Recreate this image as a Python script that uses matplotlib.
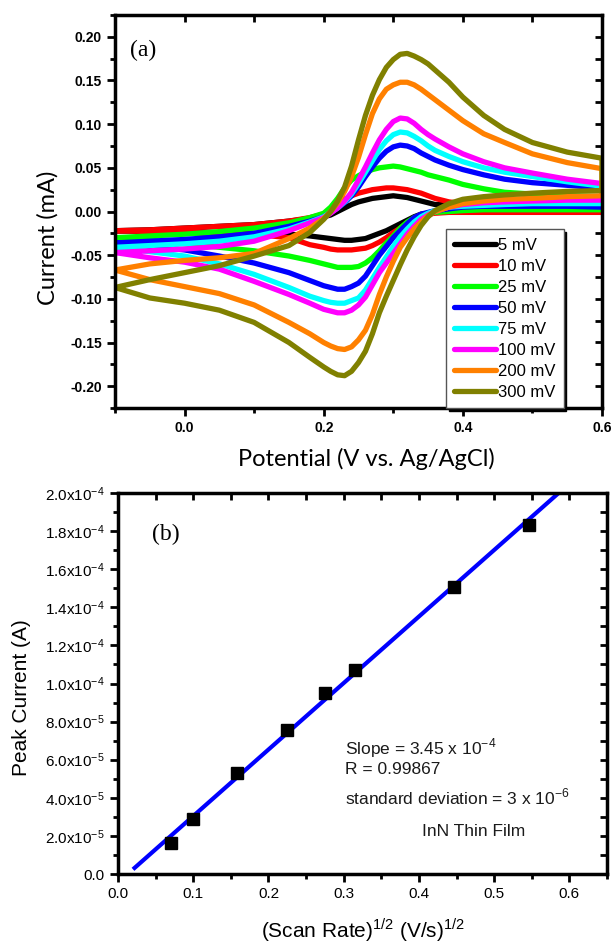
import matplotlib
matplotlib.use('Agg')
import matplotlib.pyplot as plt
from matplotlib.ticker import MultipleLocator, FuncFormatter
import numpy as np

plt.rcParams['font.family'] = ['Liberation Sans', 'DejaVu Sans']
plt.rcParams['axes.unicode_minus'] = False
plt.rcParams['mathtext.fontset'] = 'custom'
plt.rcParams['mathtext.rm'] = 'Liberation Sans'

# ---- (a) cyclic voltammograms, current in mA ----
potential = [-0.1, -0.05, 0.0, 0.05, 0.1, 0.15, 0.18, 0.2, 0.21, 0.22, 0.23, 0.24, 0.25, 0.26,
             0.27, 0.28, 0.29, 0.30, 0.31, 0.32, 0.33, 0.34, 0.35, 0.36, 0.38, 0.40, 0.43,
             0.46, 0.50, 0.55, 0.60]
scan_labels = ['5 mV', '10 mV', '25 mV', '50 mV', '75 mV', '100 mV', '200 mV', '300 mV']

fwd_5 = [-0.022, -0.021, -0.019, -0.017, -0.015, -0.011, -0.008, -0.006, -0.004, 0.000, 0.004,
         0.008, 0.011, 0.013, 0.015, 0.016, 0.017, 0.018, 0.017, 0.016, 0.014, 0.012, 0.010,
         0.008, 0.008, 0.008, 0.008, 0.008, 0.008, 0.008, 0.008]
rev_5 = [-0.022, -0.023, -0.024, -0.025, -0.025, -0.026, -0.028, -0.030, -0.031, -0.032, -0.033,
         -0.033, -0.032, -0.031, -0.028, -0.025, -0.022, -0.018, -0.014, -0.010, -0.006, -0.003,
         -0.002, -0.001, -0.001, -0.001, -0.001, -0.001, -0.001, -0.001, -0.001]
fwd_10 = [-0.022, -0.021, -0.019, -0.017, -0.015, -0.011, -0.007, -0.003, 0.001, 0.008, 0.014,
          0.018, 0.021, 0.023, 0.025, 0.026, 0.027, 0.027, 0.026, 0.025, 0.023, 0.021, 0.018,
          0.015, 0.011, 0.009, 0.008, 0.008, 0.008, 0.008, 0.008]
rev_10 = [-0.022, -0.023, -0.024, -0.025, -0.026, -0.030, -0.038, -0.041, -0.043, -0.044, -0.044,
          -0.044, -0.043, -0.042, -0.039, -0.035, -0.030, -0.024, -0.019, -0.013, -0.009, -0.005,
          -0.003, -0.002, -0.001, -0.001, -0.001, -0.001, -0.001, -0.001, -0.001]
fwd_25 = [-0.030, -0.028, -0.026, -0.023, -0.019, -0.013, -0.007, -0.002, 0.005, 0.015, 0.027,
          0.036, 0.041, 0.045, 0.048, 0.050, 0.051, 0.052, 0.051, 0.049, 0.047, 0.045, 0.042,
          0.040, 0.036, 0.031, 0.026, 0.022, 0.020, 0.018, 0.017]
rev_25 = [-0.030, -0.033, -0.037, -0.041, -0.045, -0.051, -0.056, -0.060, -0.062, -0.064, -0.064,
          -0.064, -0.063, -0.059, -0.053, -0.045, -0.036, -0.028, -0.019, -0.012, -0.007, -0.004,
          -0.002, -0.001, 0.000, 0.001, 0.002, 0.002, 0.002, 0.002, 0.002]
fwd_50 = [-0.036, -0.034, -0.032, -0.029, -0.025, -0.017, -0.011, -0.006, -0.001, 0.004, 0.010,
          0.018, 0.028, 0.040, 0.051, 0.061, 0.069, 0.074, 0.076, 0.075, 0.072, 0.067, 0.063,
          0.059, 0.053, 0.048, 0.042, 0.037, 0.033, 0.030, 0.027]
rev_50 = [-0.036, -0.040, -0.044, -0.051, -0.059, -0.070, -0.079, -0.085, -0.087, -0.089, -0.089,
          -0.086, -0.082, -0.074, -0.062, -0.050, -0.040, -0.030, -0.022, -0.014, -0.007, -0.003,
          -0.001, 0.001, 0.003, 0.005, 0.006, 0.006, 0.006, 0.006, 0.005]
fwd_75 = [-0.041, -0.039, -0.037, -0.034, -0.029, -0.020, -0.012, -0.006, -0.001, 0.004, 0.011,
          0.020, 0.032, 0.045, 0.058, 0.071, 0.081, 0.088, 0.091, 0.090, 0.086, 0.081, 0.075,
          0.070, 0.063, 0.057, 0.050, 0.045, 0.040, 0.034, 0.029]
rev_75 = [-0.041, -0.046, -0.051, -0.060, -0.072, -0.087, -0.097, -0.102, -0.104, -0.105, -0.105,
          -0.102, -0.099, -0.090, -0.077, -0.064, -0.052, -0.040, -0.029, -0.020, -0.012, -0.006,
          -0.002, 0.001, 0.005, 0.006, 0.007, 0.008, 0.009, 0.009, 0.009]
fwd_100 = [-0.047, -0.045, -0.043, -0.040, -0.034, -0.022, -0.013, -0.007, -0.002, 0.004, 0.012,
           0.022, 0.036, 0.051, 0.067, 0.082, 0.094, 0.103, 0.107, 0.106, 0.101, 0.094, 0.088,
           0.083, 0.074, 0.066, 0.057, 0.050, 0.044, 0.037, 0.032]
rev_100 = [-0.047, -0.053, -0.058, -0.066, -0.080, -0.095, -0.105, -0.112, -0.114, -0.116, -0.116,
           -0.113, -0.107, -0.098, -0.084, -0.070, -0.059, -0.048, -0.037, -0.026, -0.017, -0.009,
           -0.004, 0.000, 0.005, 0.008, 0.010, 0.011, 0.012, 0.013, 0.013]
fwd_200 = [-0.067, -0.060, -0.056, -0.053, -0.048, -0.031, -0.019, -0.008, 0.000, 0.010, 0.023,
           0.040, 0.062, 0.088, 0.112, 0.129, 0.140, 0.145, 0.148, 0.148, 0.145, 0.140, 0.134,
           0.128, 0.116, 0.104, 0.089, 0.079, 0.066, 0.056, 0.049]
rev_200 = [-0.067, -0.078, -0.086, -0.094, -0.107, -0.127, -0.140, -0.150, -0.154, -0.157, -0.158,
           -0.155, -0.147, -0.136, -0.118, -0.095, -0.075, -0.057, -0.041, -0.030, -0.020, -0.012,
           -0.005, 0.000, 0.005, 0.009, 0.012, 0.014, 0.015, 0.017, 0.018]
fwd_300 = [-0.087, -0.078, -0.070, -0.062, -0.051, -0.039, -0.024, -0.009, 0.000, 0.012, 0.028,
           0.052, 0.082, 0.110, 0.133, 0.151, 0.165, 0.174, 0.180, 0.181, 0.178, 0.174, 0.169,
           0.162, 0.148, 0.131, 0.110, 0.094, 0.079, 0.068, 0.061]
rev_300 = [-0.087, -0.099, -0.105, -0.113, -0.127, -0.150, -0.167, -0.178, -0.183, -0.187, -0.188,
           -0.183, -0.173, -0.160, -0.140, -0.116, -0.097, -0.079, -0.061, -0.044, -0.029, -0.016,
           -0.006, 0.001, 0.009, 0.014, 0.017, 0.019, 0.021, 0.023, 0.024]

forward = [fwd_5, fwd_10, fwd_25, fwd_50, fwd_75, fwd_100, fwd_200, fwd_300]
reverse = [rev_5, rev_10, rev_25, rev_50, rev_75, rev_100, rev_200, rev_300]
colors = ['#000000', '#ff0000', '#00ff00', '#0000ff', '#00ffff', '#ff00ff', '#ff8000', '#808000']

# ---- (b) peak current vs sqrt(scan rate) ----
sqrt_scan = [0.071, 0.100, 0.158, 0.224, 0.275, 0.315, 0.446, 0.546]
peak_current = [1.61e-5, 2.87e-5, 5.29e-5, 7.56e-5, 9.50e-5, 1.071e-4, 1.508e-4, 1.832e-4]


def frame(ax, xmaj, xmin, ymaj, ymin):
    for s in ax.spines.values():
        s.set_linewidth(2.5)
    ax.xaxis.set_major_locator(MultipleLocator(xmaj))
    ax.xaxis.set_minor_locator(MultipleLocator(xmin))
    ax.yaxis.set_major_locator(MultipleLocator(ymaj))
    ax.yaxis.set_minor_locator(MultipleLocator(ymin))
    ax.tick_params(which='major', direction='out', length=6, width=2)
    ax.tick_params(which='minor', direction='out', length=3.5, width=2)
    top = ax.secondary_xaxis('top')
    top.xaxis.set_major_locator(MultipleLocator(xmin))
    top.tick_params(direction='in', length=5, width=2, labeltop=False)
    right = ax.secondary_yaxis('right')
    right.yaxis.set_major_locator(MultipleLocator(ymin))
    right.tick_params(direction='in', length=5, width=2, labelright=False)


fig = plt.figure(figsize=(6.13, 9.43), dpi=100)

ax1 = fig.add_axes([115 / 613, 1 - 408 / 943, 487 / 613, 393 / 943])
for fwd, rev, lab, c in zip(forward, reverse, scan_labels, colors):
    xs = potential + potential[::-1]
    ys = fwd + rev[::-1]
    ax1.plot(xs, ys, color=c, lw=3.8, label=lab, solid_joinstyle='round',
             solid_capstyle='round')
ax1.set_xlim(-0.1, 0.6)
ax1.set_ylim(-0.225, 0.225)
frame(ax1, 0.2, 0.1, 0.05, 0.025)
ax1.xaxis.set_major_formatter(FuncFormatter(lambda v, p: f'{v:.1f}'))
ax1.yaxis.set_major_formatter(FuncFormatter(lambda v, p: f'{v:.2f}'))
for t in ax1.get_xticklabels() + ax1.get_yticklabels():
    t.set_fontweight('bold')
    t.set_fontsize(10)
ax1.text(0.03, 0.91, '(a)', transform=ax1.transAxes, family='Liberation Serif',
         fontsize=17, va='center', ha='left')
leg = ax1.legend(loc='lower left', bbox_to_anchor=(0.68, 0.0), borderaxespad=0,
                 fontsize=12, handlelength=2.5, handletextpad=0.1, labelspacing=0.36,
                 borderpad=0.5, fancybox=False, shadow={'color': 'black', 'alpha': 1})
leg.get_frame().set_edgecolor('#555555')
leg.get_frame().set_linewidth(1)

fig.text(48 / 613, 1 - 238 / 943, 'Current (mA)', rotation=90, family='Lato',
         fontsize=17, ha='center', va='center')
fig.text(366 / 613, 1 - 459 / 943, 'Potential (V vs. Ag/AgCl)', family='Lato',
         fontsize=17, ha='center', va='center')

ax2 = fig.add_axes([118 / 613, 1 - 874 / 943, 489 / 613, 381 / 943])
slope, intercept = np.polyfit(sqrt_scan, peak_current, 1)
fit_x = np.array([0.022, 0.6])
ax2.plot(fit_x, slope * fit_x + intercept, color='#0000ff', lw=3)
ax2.plot(sqrt_scan, peak_current, 's', color='black', ms=9)
ax2.set_xlim(0, 0.65)
ax2.set_ylim(0, 2e-4)
frame(ax2, 0.1, 0.05, 2e-5, 1e-5)


def sci(v, p):
    if abs(v) < 1e-12:
        return '0.0'
    e = int(np.floor(np.log10(abs(v)) + 1e-9))
    m = v / 10 ** e
    return r'$\mathregular{' + f'{m:.1f}x10' + '^{' + str(e) + '}}$'


ax2.yaxis.set_major_formatter(FuncFormatter(sci))
ax2.xaxis.set_major_formatter(FuncFormatter(lambda v, p: f'{v:.1f}'))
ax2.tick_params(labelsize=11)
ax2.text(0.07, 0.89, '(b)', transform=ax2.transAxes, family='Liberation Serif',
         fontsize=17, va='center', ha='left')
note = dict(transform=ax2.transAxes, fontsize=12.5, va='center', ha='left', color='#1a1a1a')
ax2.text(0.464, 0.331, r'Slope = 3.45 x 10$^{\mathregular{-4}}$', **note)
ax2.text(0.464, 0.273, 'R = 0.99867', **note)
ax2.text(0.464, 0.203, r'standard deviation = 3 x 10$^{\mathregular{-6}}$', **note)
ax2.text(0.621, 0.111, 'InN Thin Film', **note)

fig.text(22 / 613, 1 - 698 / 943, 'Peak Current (A)', rotation=90, fontsize=15,
         ha='center', va='center')
fig.text(363 / 613, 0.014, r'(Scan Rate)$^{\mathregular{1/2}}$ (V/s)$^{\mathregular{1/2}}$',
         fontsize=15, ha='center', va='center')

fig.savefig('out.png', dpi=100)
